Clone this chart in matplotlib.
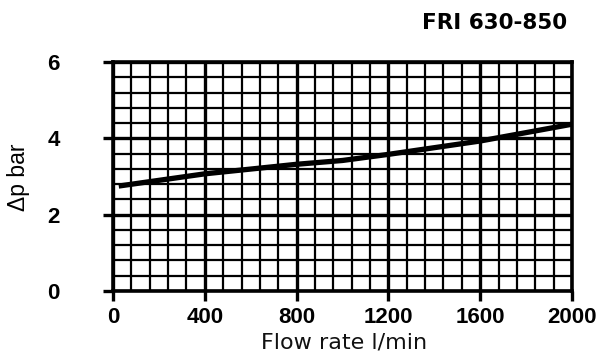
import numpy as np
import matplotlib.pyplot as plt
from matplotlib.ticker import MultipleLocator

# flow rate (l/min) and pressure drop (bar)
flow = [25, 400, 800, 1000, 1200, 1600, 2000]
dp = [2.75, 3.07, 3.32, 3.42, 3.58, 3.93, 4.37]

x_ticks = [0, 400, 800, 1200, 1600, 2000]
y_ticks = [0, 2, 4, 6]

fig = plt.figure(figsize=(6.14, 3.57), dpi=100)
ax = fig.add_axes([113 / 614, 1 - 291 / 357, (572 - 113) / 614, (291 - 62) / 357])

ax.set_xlim(0, 2000)
ax.set_ylim(0, 6)

# grid: thin every 80 / 0.4, thicker every 400 / 2
ax.xaxis.set_minor_locator(MultipleLocator(80))
ax.yaxis.set_minor_locator(MultipleLocator(0.4))
ax.set_xticks(x_ticks)
ax.set_yticks(y_ticks)
ax.grid(which='minor', color='black', lw=1.6)
ax.grid(which='major', color='black', lw=2.4)
ax.tick_params(which='minor', length=0)
ax.tick_params(which='major', direction='out', length=7.5, width=2.4, color='black')
ax.tick_params(axis='y', pad=31)
ax.tick_params(axis='x', pad=4)
ax.set_axisbelow(True)

for s in ax.spines.values():
    s.set_linewidth(2.6)

for lab in ax.get_xticklabels() + ax.get_yticklabels():
    lab.set_fontfamily('Liberation Sans')
    lab.set_fontweight('bold')
    lab.set_fontsize(16)

ax.plot(flow, dp, color='black', lw=3.8, solid_capstyle='butt')

fig.text(18 / 614, 1 - 177 / 357, 'Δp bar', rotation=90, ha='center', va='center',
         fontsize=16.5, family='Liberation Sans')
fig.text(344 / 614, 1 - 343 / 357, 'Flow rate l/min', ha='center', va='center',
         fontsize=16, family='DejaVu Sans', color='#111111')
fig.text(567 / 614, 1 - 23 / 357, 'FRI 630-850', ha='right', va='center',
         fontsize=15.5, family='DejaVu Sans', fontweight='bold')

fig.savefig('out.png', dpi=100)
